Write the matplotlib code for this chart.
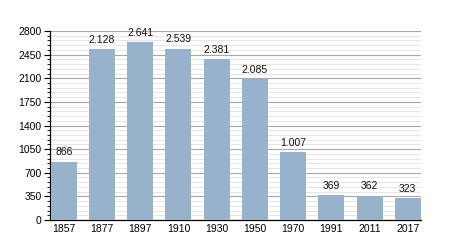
import matplotlib
matplotlib.use("Agg")
import matplotlib.pyplot as plt
from matplotlib.ticker import MultipleLocator

years = ["1857", "1877", "1897", "1910", "1930", "1950", "1970", "1991", "2011", "2017"]
# bar heights as drawn in the picture (the 1877 bar is taller than its label says)
heights = [866, 2530, 2641, 2539, 2381, 2085, 1007, 369, 362, 323]
labels = ["866", "2.128", "2.641", "2.539", "2.381", "2.085", "1.007", "369", "362", "323"]

plt.rcParams['font.family'] = ['Liberation Sans', 'DejaVu Sans']

fig = plt.figure(figsize=(4.5, 2.5), dpi=100)
ax = fig.add_axes([0.111, 0.12, 0.825, 0.756])

x = range(len(years))
ax.bar(x, heights, width=0.68, color="#98b2cc", zorder=3)

for xi, h, lab in zip(x, heights, labels):
    ax.annotate(lab, (xi, h), xytext=(0, 3), textcoords="offset points",
                ha="center", va="bottom", fontsize=7.5, color="#111111", zorder=4)

ax.set_xlim(-0.36, 9.35)
ax.set_ylim(0, 2800)
ax.yaxis.set_major_locator(MultipleLocator(350))
ax.yaxis.set_minor_locator(MultipleLocator(70))
ax.set_xticks(list(x))
ax.set_xticklabels(years)

ax.grid(axis="y", which="major", color="#a8a8a8", linewidth=0.8, zorder=0)
ax.grid(axis="y", which="minor", color="#e2e2e2", linewidth=0.6, zorder=0)

for side in ("top", "right"):
    ax.spines[side].set_visible(False)
ax.spines["left"].set_linewidth(0.9)
ax.spines["bottom"].set_linewidth(0.9)

ax.tick_params(axis="y", which="major", length=4, width=0.8, labelsize=7.5, pad=2)
ax.tick_params(axis="y", which="minor", length=2, width=0.6)
ax.tick_params(axis="x", length=0, labelsize=7.5, pad=3)

fig.savefig("out.png", dpi=100)
